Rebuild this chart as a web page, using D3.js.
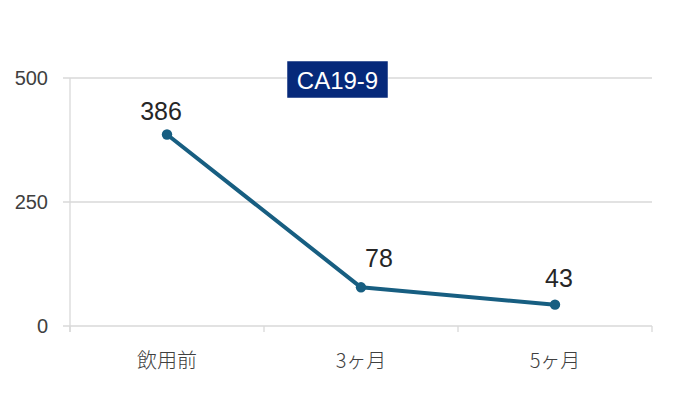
<!DOCTYPE html>
<html>
<head>
<meta charset="utf-8">
<script src="https://cdn.jsdelivr.net/npm/d3@7"></script>
<style>
  body { margin: 0; background: #fff; }
  svg { display: block; font-family: "Liberation Sans", Arial, "Noto Sans CJK JP", sans-serif; }
</style>
</head>
<body>
<svg width="676" height="393"></svg>
<script>
// data
const categories = ["飲用前", "3ヶ月", "5ヶ月"];
const values = [386, 78, 43];
const yTicks = [0, 250, 500];
const title = "CA19-9";

const svg = d3.select("svg");
const margin = { left: 70, right: 24, top: 78, bottom: 67 };
const W = 676, H = 393;

const x = d3.scaleBand()
    .domain(categories)
    .range([margin.left, W - margin.right]);
const y = d3.scaleLinear()
    .domain([0, 500])
    .range([H - margin.bottom, margin.top]);

const grid = "#d9d9d9";

// horizontal gridlines + small ticks left of axis
svg.append("g").selectAll("line").data(yTicks).enter().append("line")
    .attr("x1", margin.left - 7).attr("x2", W - margin.right)
    .attr("y1", d => y(d)).attr("y2", d => y(d))
    .attr("stroke", grid).attr("stroke-width", 1.3);

// vertical axis line
svg.append("line")
    .attr("x1", margin.left).attr("x2", margin.left)
    .attr("y1", y(500)).attr("y2", y(0) + 6)
    .attr("stroke", grid).attr("stroke-width", 1.3);

// x tick marks at band edges
const edges = categories.map(c => x(c)).concat([x(categories[2]) + x.bandwidth()]);
svg.append("g").selectAll("line").data(edges).enter().append("line")
    .attr("x1", d => d).attr("x2", d => d)
    .attr("y1", y(0)).attr("y2", y(0) + 6)
    .attr("stroke", grid).attr("stroke-width", 1.3);

// y labels
svg.append("g").selectAll("text").data(yTicks).enter().append("text")
    .attr("x", 48).attr("y", d => y(d) + 7)
    .attr("text-anchor", "end")
    .attr("font-size", 20).attr("fill", "#404040")
    .text(d => d);

// x labels
svg.append("g").selectAll("text").data(categories).enter().append("text")
    .attr("x", d => x(d) + x.bandwidth() / 2).attr("y", 368)
    .attr("text-anchor", "middle")
    .attr("font-size", 20).attr("fill", "#404040")
    .attr("font-family", "'Noto Sans CJK JP', sans-serif")
    .attr("font-weight", 300)
    .text(d => d);

const pts = categories.map((c, i) => ({ c: c, v: values[i] }));
const cx = d => x(d.c) + x.bandwidth() / 2;

svg.append("path")
    .datum(pts)
    .attr("fill", "none")
    .attr("stroke", "#175e81")
    .attr("stroke-width", 4)
    .attr("stroke-linejoin", "round")
    .attr("d", d3.line().x(cx).y(d => y(d.v)));

svg.append("g").selectAll("circle").data(pts).enter().append("circle")
    .attr("cx", cx).attr("cy", d => y(d.v))
    .attr("r", 5.2).attr("fill", "#175e81");

// value labels
const labelDx = [-6, 18, 4];
const labelDy = [-15, -20, -18];
svg.append("g").selectAll("text").data(pts).enter().append("text")
    .attr("x", (d, i) => cx(d) + labelDx[i])
    .attr("y", (d, i) => y(d.v) + labelDy[i])
    .attr("text-anchor", "middle")
    .attr("font-size", 25).attr("fill", "#262626")
    .text(d => d.v);

// title box
const tb = svg.append("g").attr("transform", "translate(287,61)");
tb.append("rect").attr("width", 101).attr("height", 37)
    .attr("fill", "#06297a").attr("stroke", "#ffffff").attr("stroke-width", 0.5);
tb.append("text").attr("x", 50.5).attr("y", 27.5)
    .attr("text-anchor", "middle")
    .attr("font-size", 24).attr("fill", "#fff")
    .text(title);
</script>
</body>
</html>
